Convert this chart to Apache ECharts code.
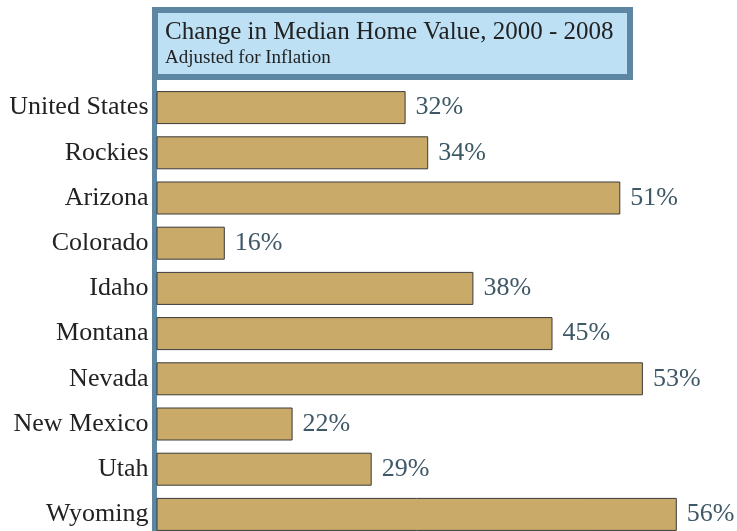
<!DOCTYPE html>
<html>
<head>
<meta charset="utf-8">
<script src="https://cdn.jsdelivr.net/npm/echarts@6/dist/echarts.min.js"></script>
<style>
  html, body { margin: 0; padding: 0; background: #fff; }
  #chart { width: 737px; height: 531px; }
</style>
</head>
<body>
<div id="chart"></div>
<script>
// regions, top to bottom
const regions = ['United States', 'Rockies', 'Arizona', 'Colorado', 'Idaho',
  'Montana', 'Nevada', 'New Mexico', 'Utah', 'Wyoming'];
// change in median home value, percent
const changePct = [32, 34, 51, 16, 38, 45, 53, 22, 29, 56];

const serif = "'Liberation Serif', 'Times New Roman', serif";
const chart = echarts.init(document.getElementById('chart'));

const option = {
  backgroundColor: '#fff',
  animation: false,
  title: {
    text: 'Change in Median Home Value, 2000 - 2008',
    subtext: 'Adjusted for Inflation',
    left: 165,
    top: 18,
    itemGap: 1,
    padding: 0,
    textStyle: { fontFamily: serif, fontSize: 25, fontWeight: 'normal', color: '#222', lineHeight: 28 },
    subtextStyle: { fontFamily: serif, fontSize: 19, color: '#222', lineHeight: 22 }
  },
  graphic: [
    {
      // axis line running up into the title box
      type: 'rect',
      z: 0,
      shape: { x: 152, y: 75, width: 5, height: 15 },
      style: { fill: '#5c86a2' }
    },
    {
      type: 'rect',
      z: 0,
      shape: { x: 155, y: 10, width: 475, height: 67 },
      style: { fill: '#bde0f5', stroke: '#5d86a3', lineWidth: 6 }
    }
  ],
  grid: { left: 157, right: 15, top: 85, height: 452, outerBoundsMode: 'none' },
  xAxis: {
    type: 'value',
    min: 10,
    max: 60,
    show: false
  },
  yAxis: {
    type: 'category',
    data: regions,
    inverse: true,
    offset: 2.5,
    axisLine: { lineStyle: { color: '#5c86a2', width: 5 } },
    axisTick: { show: false },
    axisLabel: { fontFamily: serif, fontSize: 26, color: '#222', margin: 6 }
  },
  series: [{
    type: 'bar',
    data: changePct,
    barWidth: 33,
    itemStyle: { color: '#c9aa69', borderColor: '#3a3a3a', borderWidth: 1 },
    label: {
      show: true,
      position: 'right',
      distance: 10,
      formatter: '{c}%',
      fontFamily: serif,
      fontSize: 26,
      color: '#3e5866'
    }
  }]
};
chart.setOption(option);
</script>
</body>
</html>
